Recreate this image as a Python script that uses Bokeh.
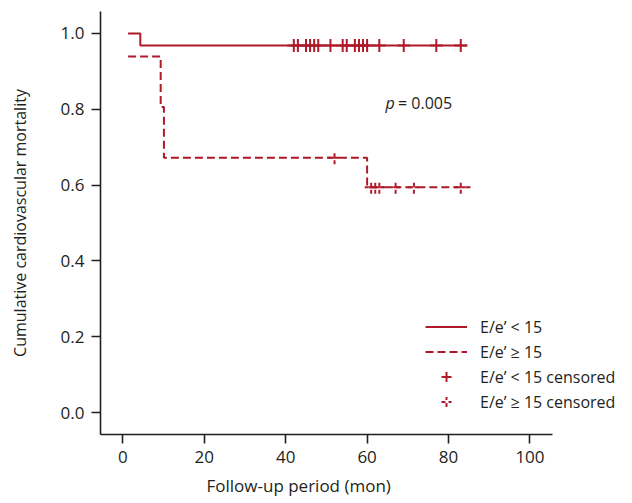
from bokeh.plotting import figure
from bokeh.models import Legend, LegendItem, Label, FixedTicker, Range1d, Title
from bokeh.embed import file_html
from bokeh.resources import INLINE
import numpy as np

# Kaplan-Meier style step data
low_times = [1.3, 4.3, 84.6]
low_surv = [1.0, 0.968, 0.968]
high_times = [1.3, 9.3, 10.1, 60.0, 85.4]
high_surv = [0.939, 0.806, 0.672, 0.594, 0.594]

low_censored = [42, 43, 45, 46, 47, 48, 51, 54, 55, 57, 58, 59, 60, 63, 69, 77, 83]
high_censored = [52, 61, 62, 63, 67, 71.5, 83]

x_ticks = [0, 20, 40, 60, 80, 100]
y_ticks = [0.0, 0.2, 0.4, 0.6, 0.8, 1.0]
y_tick_labels = {0.0: "0.0", 0.2: "0.2", 0.4: "0.4", 0.6: "0.6", 0.8: "0.8", 1.0: "1.0"}

RED = "#ae1a2a"
INK = "#231f20"
FONT = "Open Sans"


def step_value(times, surv, t):
    idx = np.searchsorted(times, t, side="right") - 1
    return [surv[i] for i in idx]


p = figure(width=630, height=503, output_backend="svg", toolbar_location=None,
           x_range=Range1d(-5.48, 124.2), y_range=Range1d(-0.058, 1.058),
           min_border_left=100, min_border_right=2, min_border_top=11, min_border_bottom=68)
p.outline_line_color = None
p.grid.visible = False
p.background_fill_color = "white"

r_low = p.step(low_times, low_surv, mode="after", line_color=RED, line_width=2)
r_high = p.step(high_times, high_surv, mode="after", line_color=RED, line_width=2,
                line_dash="8 4")
r_lc = p.scatter(low_censored, step_value(low_times, low_surv, low_censored),
                 marker="cross", size=13, line_color=RED, line_width=2)
r_hc = p.scatter(high_censored, step_value(high_times, high_surv, high_censored),
                 marker="cross", size=13, line_color=RED, line_width=2, line_dash="4 3")

for ax in (p.xaxis[0], p.yaxis[0]):
    ax.axis_line_color = INK
    ax.axis_line_width = 1.6
    ax.major_tick_line_color = INK
    ax.major_tick_line_width = 1.6
    ax.major_tick_out = 9
    ax.major_tick_in = 0
    ax.minor_tick_line_color = None
    ax.major_label_text_font = FONT
    ax.major_label_text_font_size = "17px"
    ax.major_label_text_color = INK
    ax.axis_label_text_font = FONT
    ax.axis_label_text_font_style = "normal"
    ax.axis_label_text_font_size = "16px"
    ax.axis_label_text_color = INK

p.xaxis.ticker = FixedTicker(ticks=x_ticks)
p.xaxis.bounds = (-5.48, 105.5)
p.yaxis.ticker = FixedTicker(ticks=y_ticks)
p.yaxis.major_label_overrides = y_tick_labels
p.xaxis.major_label_standoff = 7
p.yaxis.major_label_standoff = 7
p.yaxis.axis_label = "Cumulative cardiovascular mortality"
p.yaxis.axis_label_standoff = 27

# x-axis title, placed under the data area like the reference
p.add_layout(Title(text="Follow-up period (mon)", align="left", offset=106, standoff=13,
                   text_font=FONT, text_font_style="normal", text_font_size="17px",
                   text_color=INK), "below")

p.add_layout(Label(x=64.5, y=0.816, text="p", text_font=FONT, text_font_style="italic",
                   text_font_size="16px", text_color=INK, text_baseline="middle"))
p.add_layout(Label(x=67.6, y=0.816, text="= 0.005", text_font=FONT,
                   text_font_size="16px", text_color=INK, text_baseline="middle"))

legend = Legend(items=[
    LegendItem(label="E/e\u2019 < 15", renderers=[r_low]),
    LegendItem(label="E/e\u2019 \u2265 15", renderers=[r_high]),
    LegendItem(label="E/e\u2019 < 15 censored", renderers=[r_lc]),
    LegendItem(label="E/e\u2019 \u2265 15 censored", renderers=[r_hc]),
], location=(325, 20), padding=0, margin=0, spacing=0,
    glyph_width=42, glyph_height=25, label_height=25, label_standoff=13,
    label_text_font=FONT, label_text_font_size="16px", label_text_color=INK,
    border_line_color=None, background_fill_alpha=0)
p.add_layout(legend)

open("out.html", "w").write(file_html(p, INLINE))
